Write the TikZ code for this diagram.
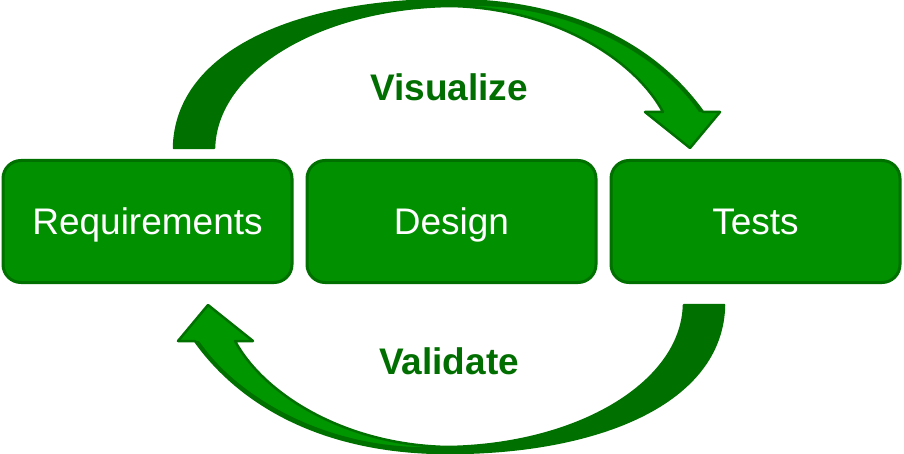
\documentclass[tikz,border=0pt]{standalone}
\usepackage{fontspec}
\setmainfont{Liberation Sans}
\usetikzlibrary{positioning}

\definecolor{boxgreen}{RGB}{0,144,0}
\definecolor{boxline}{RGB}{0,112,0}
\definecolor{arrowlight}{RGB}{0,150,0}
\definecolor{arrowdark}{RGB}{0,112,0}
\definecolor{labelgreen}{RGB}{0,110,0}

\tikzset{
    phase/.style = {draw=boxline, line width=3pt, fill=boxgreen, rounded corners=18pt,
                    minimum width=289pt, minimum height=122pt, text=white,
                    text height=26pt, text depth=0pt,
                    font=\fontsize{37}{40}\selectfont},
    looplabel/.style = {text=labelgreen, anchor=base,
                    font=\fontsize{37}{40}\selectfont\bfseries},
    bentarrow/.pic = {
        % light front face
        \fill[arrowlight] (174,148) .. controls (176,50) and (300,0) .. (450,0)
            .. controls (570,0) and (655,45) .. (703,112) -- (720,112) -- (690,148)
            -- (645,112) -- (663,112) .. controls (635,60) and (555,8) .. (450,6)
            .. controls (320,8) and (216,70) .. (214,148) -- cycle;
        % dark back face
        \fill[arrowdark] (174,148) .. controls (176,50) and (300,0) .. (450,0)
            .. controls (570,0) and (655,45) .. (703,112) -- (699,112)
            .. controls (660,55) and (575,8) .. (480,6) -- (450,6)
            .. controls (320,8) and (216,70) .. (214,148) -- cycle;
        % outline
        \draw[arrowdark, line width=2.5pt, line join=round] (174,148) .. controls (176,50) and (300,0) .. (450,0)
            .. controls (570,0) and (655,45) .. (703,112) -- (720,112) -- (690,148)
            -- (645,112) -- (663,112) .. controls (635,60) and (555,8) .. (450,6)
            .. controls (320,8) and (216,70) .. (214,148) -- cycle;
    }
}

\begin{document}
\begin{tikzpicture}[x=1pt, y=-1pt]
    \useasboundingbox[fill=white] (0,0) rectangle (904,454);

    % Phases:
    \node[phase] (req) at (147.5,221.5) {Requirements};
    \node[phase, right=12pt of req] (des) {Design};
    \node[phase, right=12pt of des] (tst) {Tests};

    % Loop arrows:
    \pic at (0,0) {bentarrow};
    \pic[rotate=180] at (898,453) {bentarrow};

    \node[looplabel] (vis) at (449,101) {Visualize};
    \node[looplabel] (val) at (449,374) {Validate};
\end{tikzpicture}
\end{document}
